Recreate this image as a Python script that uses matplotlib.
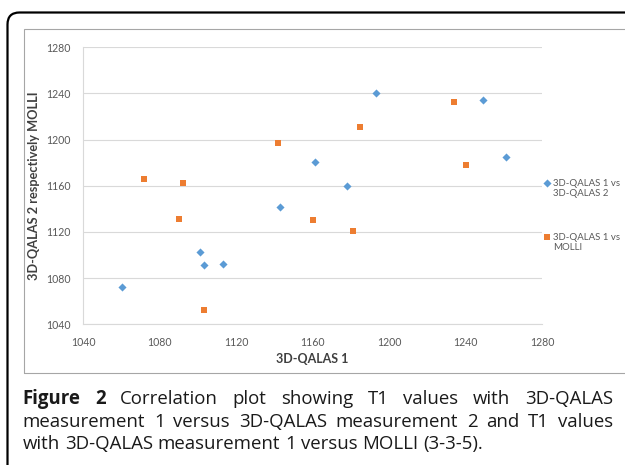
import matplotlib
matplotlib.use("Agg")
import matplotlib.pyplot as plt
from matplotlib.patches import FancyBboxPatch, Rectangle
from matplotlib.transforms import IdentityTransform
from matplotlib.collections import PathCollection
from matplotlib.legend_handler import HandlerPathCollection

# 3D-QALAS 1 vs 3D-QALAS 2
qalas1_a = [1060, 1101, 1103, 1113, 1143, 1161, 1178, 1193, 1249, 1261]
qalas2   = [1072, 1103, 1091, 1092, 1142, 1181, 1160, 1240, 1234, 1185]
# 3D-QALAS 1 vs MOLLI
qalas1_b = [1072, 1092, 1090, 1103, 1142, 1160, 1181, 1185, 1234, 1240]
molli    = [1166, 1162, 1131, 1052, 1197, 1130, 1121, 1211, 1233, 1178]

ticks = [1040, 1080, 1120, 1160, 1200, 1240, 1280]
labels = ["3D-QALAS 1 vs\n3D-QALAS 2", "3D-QALAS 1 vs\nMOLLI"]

caption = [
    [("Figure", True), ("2", True), ("Correlation", False), ("plot", False),
     ("showing", False), ("T1", False), ("values", False), ("with", False),
     ("3D-QALAS", False)],
    [("measurement", False), ("1", False), ("versus", False), ("3D-QALAS", False),
     ("measurement", False), ("2", False), ("and", False), ("T1", False),
     ("values", False)],
    [("with", False), ("3D-QALAS", False), ("measurement", False), ("1", False),
     ("versus", False), ("MOLLI", False), ("(3-3-5).", False)],
]

W, H = 625, 465
fig = plt.figure(figsize=(W/100, H/100), dpi=100)

# outer rounded frame and inner chart frame (pixel coords)
outer = FancyBboxPatch((7.5, -30), 660, H-12.5+30, boxstyle="round,pad=0,rounding_size=12",
                       transform=IdentityTransform(), fill=False, ec="black", lw=1.6)
fig.add_artist(outer)
inner = Rectangle((23.5, H-372.5), 660, 372.5-28.5, transform=IdentityTransform(),
                  fill=False, ec="#a6a6a6", lw=0.8)
fig.add_artist(inner)

ax = fig.add_axes([83.3/W, 1-324.3/H, (542-83.3)/W, (324.3-47.3)/H])
ax.scatter(qalas1_a, qalas2, marker="D", s=17, color="#5B9BD5", lw=0, label=labels[0], zorder=3)
ax.scatter(qalas1_b, molli, marker="s", s=24, color="#ED7D31", lw=0, label=labels[1], zorder=3)

ax.set_xlim(1040, 1280)
ax.set_ylim(1040, 1280)
ax.set_xticks(ticks)
ax.set_yticks(ticks)
ax.tick_params(length=0, labelsize=7.6, labelcolor="#595959", labelfontfamily="Lato")
ax.tick_params(axis="y", pad=9)
ax.tick_params(axis="x", pad=9)
ax.grid(axis="y", color="#d9d9d9", lw=0.8)
ax.set_axisbelow(True)
for s in ["top", "right"]:
    ax.spines[s].set_visible(False)
for s in ["left", "bottom"]:
    ax.spines[s].set_color("#d9d9d9")
    ax.spines[s].set_linewidth(0.8)

ax.set_xlabel("3D-QALAS 1", fontsize=9, fontweight="bold", family="Lato", color="#404040", va="center")
ax.xaxis.set_label_coords(0.5, -0.125)
ax.set_ylabel("3D-QALAS 2 respectively MOLLI", fontsize=9.2, fontweight="bold", family="Lato",
              color="#404040", va="center")
ax.yaxis.set_label_coords(-0.107, 0.5)

leg = ax.legend(loc="upper left", bbox_to_anchor=(539/W, 1-174/H), bbox_transform=fig.transFigure,
                frameon=False, borderpad=0, handlelength=0.6, handletextpad=0.4,
                labelspacing=3.6, prop={"family": "Lato", "size": 6.9},
                handler_map={PathCollection: HandlerPathCollection(numpoints=1, yoffsets=[1.4])})
for t in leg.get_texts():
    t.set_color("#595959")

# caption, first two lines justified
renderer = fig.canvas.get_renderer()
cap_fs = 13.4
x0, x1 = 22.7, 613
baselines = [403.5, 426.5, 448.5]
probe_a = fig.text(0, 0, "a a", fontsize=cap_fs, family="Open Sans")
probe_b = fig.text(0, 0, "aa", fontsize=cap_fs, family="Open Sans")
space_w = probe_a.get_window_extent(renderer).width - probe_b.get_window_extent(renderer).width
probe_a.remove()
probe_b.remove()
for i, line in enumerate(caption):
    arts = []
    for word, bold in line:
        arts.append(fig.text(0, 1-baselines[i]/H, word, fontsize=cap_fs,
                             family="Open Sans", weight="bold" if bold else "normal",
                             va="baseline", color="#1a1a1a"))
    widths = [t.get_window_extent(renderer).width for t in arts]
    if i < 2:
        gap = (x1 - x0 - sum(widths)) / (len(arts) - 1)
    else:
        gap = space_w
    x = x0
    for t, w in zip(arts, widths):
        t.set_x(x/W)
        x += w + gap

fig.savefig("out.png", dpi=100)
